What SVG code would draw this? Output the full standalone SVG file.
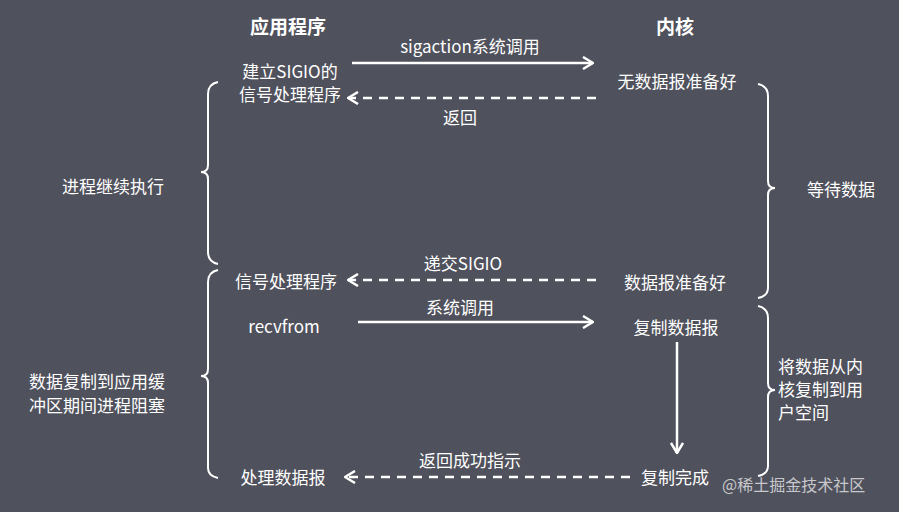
<svg xmlns="http://www.w3.org/2000/svg" width="899" height="512" viewBox="0 0 899 512">
<style>
text{font-family:"Noto Sans CJK SC","Liberation Sans",sans-serif;fill:#fff;font-size:17px;text-anchor:middle}
.h{font-size:19px;font-weight:bold}
.ln{stroke:#fff;stroke-width:2.5;fill:none}
.d{stroke-dasharray:9 7}
.br{stroke:#fff;stroke-width:2;fill:none}
.wm{fill:#c8c8cc;font-size:16px;text-anchor:start}
</style>
<defs>
<marker id="a" viewBox="0 0 12 14" refX="11" refY="7" markerWidth="12" markerHeight="14" markerUnits="userSpaceOnUse" orient="auto-start-reverse">
<path d="M1 1L11 7L1 13" fill="none" stroke="#fff" stroke-width="2.5"/>
</marker>
</defs>
<rect width="899" height="512" fill="#4f515c"/>
<g id="headers"><text class="h" x="288" y="34">应用程序</text><text class="h" x="675" y="34">内核</text></g>
<g id="n1"><text x="290" y="78">建立SIGIO的</text><text x="290" y="101">信号处理程序</text></g>
<g id="n2"><text x="677" y="88">无数据报准备好</text></g>
<g id="n3"><text x="286" y="288">信号处理程序</text></g>
<g id="n4"><text x="675" y="289">数据报准备好</text></g>
<g id="n5"><text x="284" y="333">recvfrom</text></g>
<g id="n6"><text x="676" y="334">复制数据报</text></g>
<g id="n7"><text x="283" y="484">处理数据报</text></g>
<g id="n8"><text x="675" y="484">复制完成</text></g>
<g id="side">
<text x="113" y="193">进程继续执行</text>
<text x="97" y="388">数据复制到应用缓</text><text x="97" y="412">冲区期间进程阻塞</text>
<text x="841" y="196">等待数据</text>
<text x="778" y="373" style="text-anchor:start">将数据从内</text><text x="778" y="396" style="text-anchor:start">核复制到用</text><text x="778" y="419" style="text-anchor:start">户空间</text>
</g>
<g id="connectors">
<line class="ln" x1="352" y1="63" x2="593" y2="63" marker-end="url(#a)"/>
<text x="470" y="53">sigaction系统调用</text>
<line class="ln d" x1="596" y1="98" x2="348" y2="98" marker-end="url(#a)"/>
<text x="460" y="124">返回</text>
<line class="ln d" x1="596" y1="280" x2="348" y2="280" marker-end="url(#a)"/>
<text x="463" y="270">递交SIGIO</text>
<line class="ln" x1="358" y1="322" x2="593" y2="322" marker-end="url(#a)"/>
<text x="460" y="314">系统调用</text>
<line class="ln" x1="677" y1="342" x2="677" y2="453" marker-end="url(#a)"/>
<line class="ln d" x1="630" y1="477" x2="345" y2="477" marker-end="url(#a)"/>
<text x="470" y="467">返回成功指示</text>
</g>
<g id="braces">
<path class="br" d="M218 82Q208 84 208 94V165Q208 172 201 172Q208 172 208 179V252Q208 262 218 264"/>
<path class="br" d="M218 270Q208 272 208 282V369Q208 376 201 376Q208 376 208 383V468Q208 476 218 478"/>
<path class="br" d="M758 84Q768 86 768 96V181Q768 188 775 188Q768 188 768 195V288Q768 296 758 298"/>
<path class="br" d="M758 306Q768 308 768 318V383Q768 390 775 390Q768 390 768 397V466Q768 474 758 476"/>
</g>
<text class="wm" x="722" y="491">@稀土掘金技术社区</text>
</svg>
